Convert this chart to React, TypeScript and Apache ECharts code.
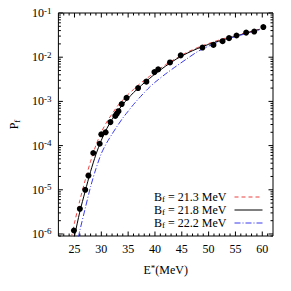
import React, { useEffect, useRef } from 'react';
import * as echarts from 'echarts';

const X_MIN = 22;
const X_MAX = 62;
const Y_MIN = 9e-7;
const Y_MAX = 0.1;

// measured points
const dataE = [24.9, 26.0, 27.0, 27.6, 28.5, 29.7, 30.0, 30.8, 31.7, 32.6, 32.9, 33.2, 33.8, 34.7, 36.85, 38.4, 39.9, 40.6, 42.8, 44.8, 48.85, 50.9, 52.6, 53.8, 55.2, 57.0, 58.5, 60.2];
const dataP = [1.2e-6, 3.7e-6, 1.0e-5, 2.1e-5, 6.8e-5, 1.1e-4, 1.8e-4, 2.0e-4, 3.4e-4, 4.7e-4, 5.3e-4, 6.0e-4, 8.7e-4, 1.2e-3, 2.0e-3, 2.8e-3, 4.6e-3, 5.3e-3, 7.6e-3, 1.1e-2, 1.65e-2, 1.9e-2, 2.3e-2, 2.7e-2, 3.1e-2, 3.6e-2, 3.8e-2, 4.8e-2];

// Bf = 21.3 MeV (red dashed)
const redE = [24.4, 25, 26, 27, 28, 29, 30, 31, 32, 33, 34, 35, 36, 37, 38, 39, 40, 42, 44, 46, 48, 50, 52, 54, 56, 58, 59.5];
const redP = [8.3e-7, 1.78e-6, 5.75e-6, 1.66e-5, 4.4e-5, 1.02e-4, 2.0e-4, 3.4e-4, 5.2e-4, 7.8e-4, 1.07e-3, 1.45e-3, 1.86e-3, 2.4e-3, 3.0e-3, 3.7e-3, 4.6e-3, 6.8e-3, 9.5e-3, 1.29e-2, 1.66e-2, 2.04e-2, 2.45e-2, 2.9e-2, 3.3e-2, 3.8e-2, 4.27e-2];

// Bf = 21.8 MeV (black solid)
const blackE = [24.9, 25, 26, 27, 28, 29, 30, 31, 32, 33, 34, 35, 36, 37, 38, 39, 40, 42, 44, 46, 48, 50, 52, 54, 56, 58, 59.5];
const blackP = [8.3e-7, 9.0e-7, 3.2e-6, 9.3e-6, 2.6e-5, 6.3e-5, 1.32e-4, 2.4e-4, 3.9e-4, 5.9e-4, 8.5e-4, 1.17e-3, 1.58e-3, 2.04e-3, 2.63e-3, 3.31e-3, 4.17e-3, 6.3e-3, 9.1e-3, 1.23e-2, 1.58e-2, 1.95e-2, 2.34e-2, 2.75e-2, 3.24e-2, 3.8e-2, 4.27e-2];

// Bf = 22.2 MeV (blue dash-dot)
const blueE = [25.7, 26, 27, 28, 29, 30, 31, 32, 33, 34, 35, 36, 37, 38, 39, 40, 42, 44, 46, 48, 50, 52, 54, 56, 58, 59.5];
const blueP = [8.3e-7, 1.2e-6, 3.8e-6, 1.17e-5, 3.0e-5, 6.6e-5, 1.15e-4, 1.82e-4, 2.8e-4, 4.2e-4, 6.0e-4, 8.5e-4, 1.17e-3, 1.58e-3, 2.1e-3, 2.7e-3, 4.2e-3, 6.3e-3, 9.3e-3, 1.35e-2, 1.78e-2, 2.24e-2, 2.7e-2, 3.16e-2, 3.7e-2, 4.17e-2];

const seriesNames = ['Bf = 21.3 MeV', 'Bf = 21.8 MeV', 'Bf = 22.2 MeV'];
const seriesLabels = ['21.3', '21.8', '22.2'];

const xMajorTicks = [25, 30, 35, 40, 45, 50, 55, 60];
const xMinorTicks = [23, 24, 26, 27, 28, 29, 31, 32, 33, 34, 36, 37, 38, 39, 41, 42, 43, 44, 46, 47, 48, 49, 51, 52, 53, 54, 56, 57, 58, 59, 61];
const yMajorTicks = [1e-6, 1e-5, 1e-4, 1e-3, 1e-2, 1e-1];
const yMinorMantissa = [2, 3, 4, 5, 6, 7, 8, 9];
const yMinorDecades = [1e-7, 1e-6, 1e-5, 1e-4, 1e-3, 1e-2];

const FONT = '"Liberation Serif", "DejaVu Serif", serif';
const MAJ = 4.5;
const MIN = 2.5;

const zip = (a: number[], b: number[]) => a.map((v, i) => [v, b[i]]);

export default function App() {
  const ref = useRef<HTMLDivElement>(null);
  useEffect(() => {
    if (!ref.current) return;
    const chart = echarts.init(ref.current, undefined, { renderer: 'svg' });

    const yMinor: number[] = [];
    yMinorDecades.forEach((d) => yMinorMantissa.forEach((m) => {
      const v = m * d;
      if (v >= Y_MIN * 0.999 && v <= Y_MAX) yMinor.push(v);
    }));

    const xTickData = [
      ...xMajorTicks.map((v) => [v, Y_MIN, MAJ]),
      ...xMinorTicks.map((v) => [v, Y_MIN, MIN]),
    ];
    const yTickData = [
      ...yMajorTicks.map((v) => [X_MIN, v, MAJ]),
      ...yMinor.map((v) => [X_MIN, v, MIN]),
    ];

    const tickStyle = { stroke: '#000', lineWidth: 1 };

    chart.setOption({
      animation: false,
      backgroundColor: '#fff',
      grid: { left: 48, right: 18, top: 13, bottom: 55, show: true, borderColor: '#000', borderWidth: 1, backgroundColor: 'transparent' },
      xAxis: {
        type: 'value', min: X_MIN, max: X_MAX, splitNumber: 8,
        axisLine: { show: false }, axisTick: { show: false }, splitLine: { show: false },
        axisLabel: {
          margin: 7, color: '#000', fontFamily: FONT, fontSize: 12,
          formatter: (v: number) => (Math.abs(v % 5) < 1e-9 && v > X_MIN && v < X_MAX ? String(v) : ''),
        },
        name: '{a|E}{s|*}{a|(MeV)}', nameLocation: 'middle', nameGap: 27,
        nameTextStyle: {
          color: '#000', fontFamily: FONT, fontSize: 12,
          rich: {
            a: { fontFamily: FONT, fontSize: 12, color: '#000', lineHeight: 14 },
            s: { fontFamily: FONT, fontSize: 9, color: '#000', verticalAlign: 'top', lineHeight: 9 },
          },
        },
      },
      yAxis: {
        type: 'log', logBase: 10, min: Y_MIN, max: Y_MAX,
        axisLine: { show: false }, axisTick: { show: false }, splitLine: { show: false }, minorTick: { show: false },
        axisLabel: {
          margin: 7, color: '#000', fontFamily: FONT,
          formatter: (v: number) => {
            const l = Math.log10(v);
            const e = Math.round(l);
            if (Math.abs(l - e) > 1e-6) return '';
            return `{a|10}{s|${e}}`;
          },
          rich: {
            a: { fontFamily: FONT, fontSize: 12, color: '#000', lineHeight: 14 },
            s: { fontFamily: FONT, fontSize: 9, color: '#000', verticalAlign: 'top', lineHeight: 9 },
          },
        },
        name: '{a|P}{s|f}', nameLocation: 'middle', nameGap: 33,
        nameTextStyle: {
          color: '#000', fontFamily: FONT, fontSize: 12,
          rich: {
            a: { fontFamily: FONT, fontSize: 12, color: '#000', lineHeight: 14 },
            s: { fontFamily: FONT, fontSize: 9, color: '#000', verticalAlign: 'bottom', lineHeight: 9 },
          },
        },
      },
      legend: {
        data: seriesNames,
        orient: 'vertical', right: 28, top: 191, align: 'right',
        itemWidth: 28, itemHeight: 8, itemGap: 1, padding: 0,
        backgroundColor: 'transparent',
        itemStyle: { opacity: 0 },
        lineStyle: { width: 1 },
        formatter: (name: string) => {
          const i = seriesNames.indexOf(name);
          return `{a|B}{s|f}{a| = ${seriesLabels[i]} MeV}`;
        },
        textStyle: {
          color: '#000', fontFamily: FONT, fontSize: 12, padding: [0, 3, 0, 0],
          rich: {
            a: { fontFamily: FONT, fontSize: 12, color: '#000', lineHeight: 12 },
            s: { fontFamily: FONT, fontSize: 9, color: '#000', verticalAlign: 'bottom', lineHeight: 7 },
          },
        },
      },
      series: [
        {
          name: seriesNames[0], type: 'line', data: zip(redE, redP), symbol: 'none', smooth: 0.3,
          lineStyle: { color: '#ee4040', width: 1, type: [4, 3] }, itemStyle: { color: '#ee4040' }, z: 3,
        },
        {
          name: seriesNames[1], type: 'line', data: zip(blackE, blackP), symbol: 'none', smooth: 0.3,
          lineStyle: { color: '#000', width: 1, type: 'solid' }, itemStyle: { color: '#000' }, z: 3,
        },
        {
          name: seriesNames[2], type: 'line', data: zip(blueE, blueP), symbol: 'none', smooth: 0.3,
          lineStyle: { color: '#3a3aee', width: 1, type: [6, 2, 1, 2] }, itemStyle: { color: '#3a3aee' }, z: 3,
        },
        {
          name: 'data', type: 'scatter', data: zip(dataE, dataP), symbol: 'circle', symbolSize: 6,
          itemStyle: { color: '#000', opacity: 1 }, z: 4,
        },
        {
          name: 'xticks', type: 'custom', silent: true, z: 6, clip: false,
          data: xTickData,
          renderItem: (_p: any, api: any) => {
            const v = api.value(0);
            const len = api.value(2);
            const b = api.coord([v, Y_MIN]);
            const t = api.coord([v, Y_MAX]);
            return {
              type: 'group',
              children: [
                { type: 'line', shape: { x1: b[0], y1: b[1], x2: b[0], y2: b[1] - len }, style: tickStyle },
                { type: 'line', shape: { x1: t[0], y1: t[1], x2: t[0], y2: t[1] + len }, style: tickStyle },
              ],
            };
          },
        },
        {
          name: 'yticks', type: 'custom', silent: true, z: 6, clip: false,
          data: yTickData,
          renderItem: (_p: any, api: any) => {
            const v = api.value(1);
            const len = api.value(2);
            const l = api.coord([X_MIN, v]);
            const r = api.coord([X_MAX, v]);
            return {
              type: 'group',
              children: [
                { type: 'line', shape: { x1: l[0], y1: l[1], x2: l[0] + len, y2: l[1] }, style: tickStyle },
                { type: 'line', shape: { x1: r[0], y1: r[1], x2: r[0] - len, y2: r[1] }, style: tickStyle },
              ],
            };
          },
        },
      ],
    });
    return () => chart.dispose();
  }, []);
  return <div ref={ref} style={{ position: 'fixed', left: 0, top: 0, width: 291, height: 291 }} />;
}
